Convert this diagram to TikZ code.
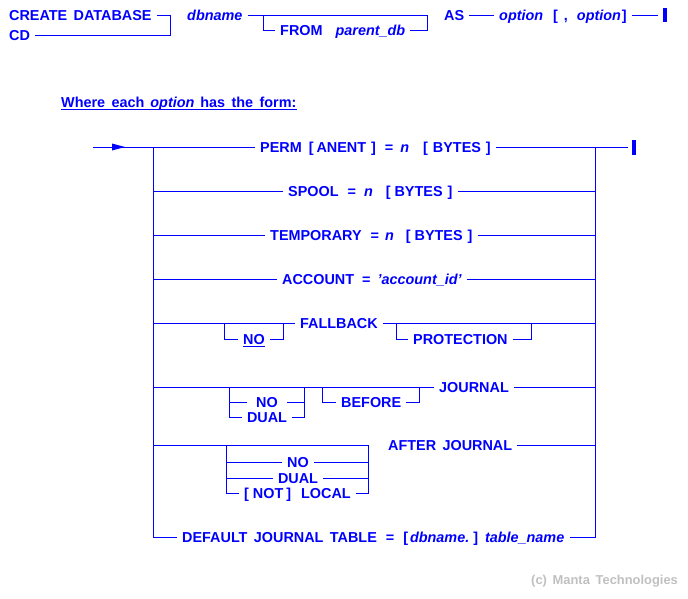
\documentclass[tikz,border=0pt]{standalone}
\usepackage{fontspec}
\setmainfont[WordSpace=1.6]{Liberation Sans}
\definecolor{rr}{RGB}{0,0,255}
\definecolor{cg}{RGB}{192,192,192}
\tikzset{
  t/.style={anchor=west, inner xsep=5pt, inner ysep=0pt, text height=10pt, text depth=0pt,
            font=\fontsize{14.4pt}{16pt}\selectfont\bfseries, text=rr},
  tc/.style={t, anchor=center},
  ln/.style={draw=rr, line width=1pt},
  endbar/.style={draw=rr, line width=3.3pt},
}
\newcommand{\hh}[1]{\hspace{#1pt}}
\newcommand{\ital}[1]{{\itshape #1}}
\begin{document}
\begin{tikzpicture}[x=1pt, y=-1pt]
\useasboundingbox (0,0) rectangle (688,598);
% ---------------- top statement ----------------
\node[t] (cdb) at (4,15) {CREATE DATABASE};
\node[t] (cd) at (4,35) {CD};
\coordinate (j1) at (170,15);
\draw[ln] (cdb.east) -- (j1);
\draw[ln] (cd.east) -| (j1);
\node[t] (dbn) at (182,15) {\ital{dbname}};
\coordinate (j2) at (263,15);
\coordinate (j3) at (427,15);
\draw[ln] (dbn.east) -- (j3);
\node[t] (from) at (275,30) {FROM\hh{13}\ital{parent\_db}};
\draw[ln] (j2) |- (from.west);
\draw[ln] (from.east) -| (j3);
\node[t] (as) at (439,15) {AS};
\node[t] (opt) at (494,15) {\ital{option}\hh{10}[\hh6,\hh9\ital{option}\hh1]};
\draw[ln] (as.east) -- (opt.west);
\coordinate (e1) at (658,15);
\draw[ln] (opt.east) -- (e1);
\draw[endbar] (665,8) -- (665,22);
% ---------------- heading ----------------
\node[t, inner xsep=0pt] (hd) at (61,102) {Where each\hh6\ital{option}\hh6has the form:};
\draw[ln] ([yshift=-2pt]hd.south west) -- ([yshift=-2pt]hd.south east);
% ---------------- option diagram ----------------
\coordinate (s0) at (93,147);
\coordinate (L1) at (153,147);
\coordinate (R1) at (595,147);
\coordinate (e2) at (628,147);
\draw[ln] (s0) -- (L1);
\fill[rr] (112,143.5) -- (125,147) -- (112,150.5) -- cycle;
\draw[endbar] (634,140) -- (634,155);
% row 1
\node[t] (perm) at (255,147) {PERM\hh7[\hh3ANENT\hh5]\hh9=\hh7\ital{n}\hh{14}[\hh5BYTES\hh5]};
\draw[ln] (L1) -- (perm.west);
\draw[ln] (perm.east) -- (R1);
\draw[ln] (R1) -- (e2);
% rails
\node[t] (def) at (177,537) {DEFAULT JOURNAL TABLE\hh9=\hh9[\hh2\ital{dbname.}\hh4]\hh7\ital{table\_name}};
\draw[ln] (L1) |- (def.west);
\draw[ln] (def.east) -| (R1);
% row 2
\node[t] (spool) at (283,191) {SPOOL\hh9=\hh8\ital{n}\hh{13}[\hh4BYTES\hh5]};
\draw[ln] (spool.west -| L1) -- (spool.west);
\draw[ln] (spool.east) -- (spool.east -| R1);
% row 3
\node[t] (temp) at (265,235) {TEMPORARY\hh9=\hh6\ital{n}\hh{12}[\hh4BYTES\hh5]};
\draw[ln] (temp.west -| L1) -- (temp.west);
\draw[ln] (temp.east) -- (temp.east -| R1);
% row 4
\node[t] (acct) at (277,279) {ACCOUNT\hh8=\hh7\ital{'account\_id'}};
\draw[ln] (acct.west -| L1) -- (acct.west);
\draw[ln] (acct.east) -- (acct.east -| R1);
% row 5: fallback
\node[t] (fb) at (295,323) {FALLBACK};
\draw[ln] (fb.west -| L1) -- (fb.west);
\draw[ln] (fb.east) -- (fb.east -| R1);
\coordinate (b5a) at (224,323);
\coordinate (b5b) at (283,323);
\node[t] (no5) at (238,339) {NO};
\draw[ln] ([yshift=-2pt,xshift=5pt]no5.south west) -- ([yshift=-2pt,xshift=-5pt]no5.south east);
\draw[ln] (b5a) |- (no5.west);
\draw[ln] (no5.east) -| (b5b);
\coordinate (b5c) at (396,323);
\coordinate (b5d) at (531,323);
\node[t] (prot) at (408,339) {PROTECTION};
\draw[ln] (b5c) |- (prot.west);
\draw[ln] (prot.east) -| (b5d);
% row 6: journal
\node[t] (jr) at (434,387) {JOURNAL};
\draw[ln] (jr.west -| L1) -- (jr.west);
\draw[ln] (jr.east) -- (jr.east -| R1);
\coordinate (b6a) at (229,387);
\coordinate (b6b) at (304,387);
\node[tc, inner xsep=9pt] (no6) at (267,402) {NO};
\node[tc] (dual6) at (267,417) {DUAL};
\draw[ln] (b6a) |- (dual6.west);
\draw[ln] (no6.west -| b6a) -- (no6.west);
\draw[ln] (dual6.east) -| (b6b);
\draw[ln] (no6.east) -- (no6.east -| b6b);
\coordinate (b6c) at (322,387);
\coordinate (b6d) at (419,387);
\node[t] (bef) at (336,402) {BEFORE};
\draw[ln] (b6c) |- (bef.west);
\draw[ln] (bef.east) -| (b6d);
% row 7: after journal
\coordinate (b7a) at (226,445);
\coordinate (b7b) at (368,445);
\draw[ln] (b7a -| L1) -- (b7b);
\node[t] (aj) at (383,445) {AFTER JOURNAL};
\draw[ln] (aj.east) -- (aj.east -| R1);
\node[tc] (no7) at (298,462) {NO};
\node[tc] (dual7) at (298,478) {DUAL};
\node[tc] (loc7) at (297.5,493) {[\hh4NOT\hh3]\hh{10}LOCAL};
\draw[ln] (b7a) |- (loc7.west);
\draw[ln] (loc7.east) -| (b7b);
\draw[ln] (no7.west -| b7a) -- (no7.west);
\draw[ln] (no7.east) -- (no7.east -| b7b);
\draw[ln] (dual7.west -| b7a) -- (dual7.west);
\draw[ln] (dual7.east) -- (dual7.east -| b7b);
% copyright
\node[anchor=west, inner sep=0pt, text height=9pt, text depth=0pt, text=cg,
      font=\fontsize{12.9pt}{15pt}\selectfont\bfseries] (cr) at (531,580) {(c) Manta Technologies};
\end{tikzpicture}
\end{document}
